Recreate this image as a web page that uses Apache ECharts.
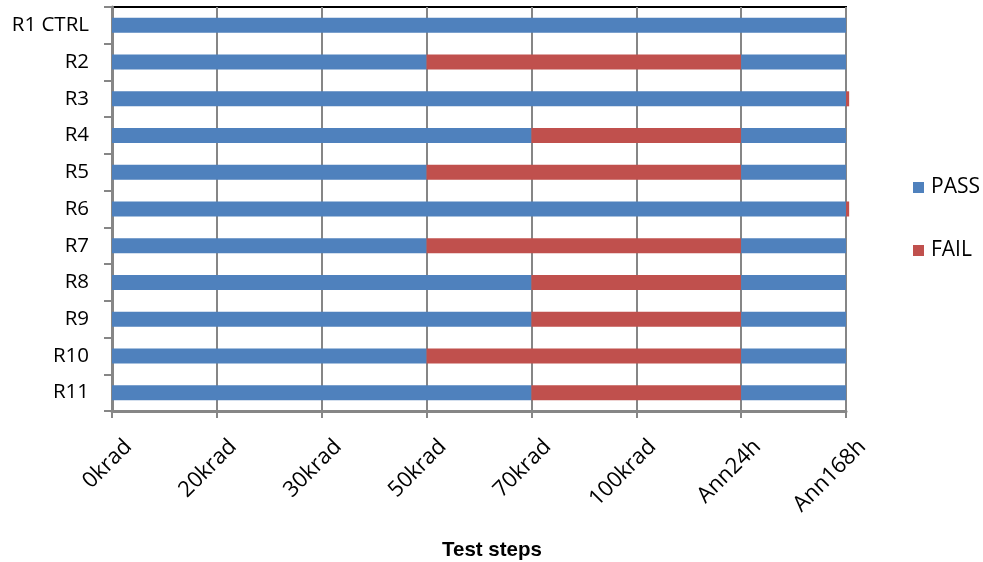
<!DOCTYPE html>
<html>
<head>
<meta charset="utf-8">
<script src="https://cdn.jsdelivr.net/npm/echarts@6/dist/echarts.min.js"></script>
<style>html,body{margin:0;padding:0;background:#fff}#c{width:983px;height:562px}</style>
</head>
<body>
<div id="c"></div>
<script>
var categories = ['R1 CTRL','R2','R3','R4','R5','R6','R7','R8','R9','R10','R11'];
var stepLabels = ['0krad','20krad','30krad','50krad','70krad','100krad','Ann24h','Ann168h'];
var passBefore = [7,3,7,4,3,7,3,4,4,3,4];
var failMid    = [0,3,0.03,2,3,0.03,3,2,2,3,2];
var passAfter  = [0,1,0,1,1,0,1,1,1,1,1];

var BLUE = '#4F81BD', RED = '#C0504D';
var chart = echarts.init(document.getElementById('c'), null, {renderer:'canvas'});
var font = '"Open Sans", Lato, sans-serif';
function bar(name, data, color){
  return {name:name, type:'bar', stack:'s', data:data, barWidth:15, clip:false,
    itemStyle:{color:color}, emphasis:{disabled:true}, animation:false};
}
chart.setOption({
  animation:false,
  grid:{left:112, right:137, top:7, bottom:151, show:true, borderColor:'#000', borderWidth:2, backgroundColor:'transparent'},
  title:{text:'Test steps', left:437, top:535,
    textStyle:{fontFamily:'"Liberation Sans", Arial, sans-serif', fontWeight:'bold', fontSize:20.5, color:'#000'}},
  legend:{orient:'vertical', left:908, top:172, itemWidth:11, itemHeight:11, itemGap:42,
    data:['PASS','FAIL'], icon:'rect',
    textStyle:{fontFamily:font, fontSize:21, color:'#000', padding:[0,0,0,2]}},
  xAxis:{type:'value', min:0, max:7, interval:1,
    axisLine:{show:true, lineStyle:{color:'#868686', width:3}},
    axisTick:{show:true, length:7, lineStyle:{color:'#868686', width:2}},
    splitLine:{show:true, lineStyle:{color:'#868686', width:2}},
    axisLabel:{rotate:45, margin:16, verticalAlign:'top', padding:[12,0,0,0], fontFamily:font, fontSize:22, color:'#000',
      formatter:function(v){return stepLabels[Math.round(v)] || '';}}},
  yAxis:{type:'category', inverse:true, data:categories,
    axisLine:{show:true, lineStyle:{color:'#868686', width:3}},
    axisTick:{show:true, length:8, lineStyle:{color:'#868686', width:2}},
    axisLabel:{fontFamily:font, fontSize:20.5, color:'#000', margin:23}},
  series:[bar('PASS', passBefore, BLUE), bar('FAIL', failMid, RED), bar('PASS', passAfter, BLUE)]
});
</script>
</body>
</html>
